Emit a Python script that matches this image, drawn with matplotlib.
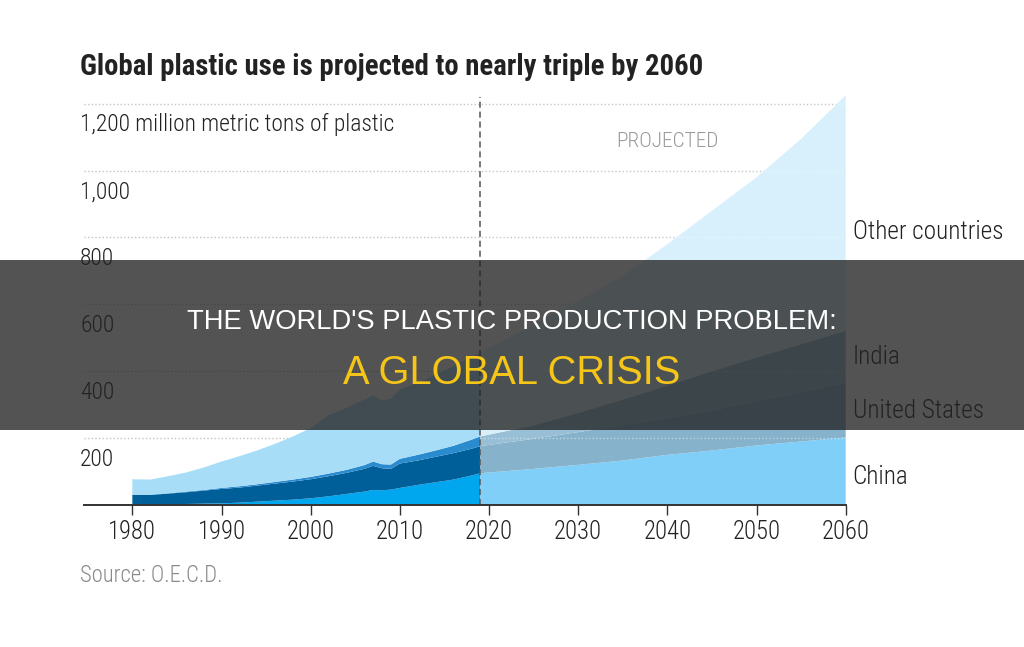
import matplotlib
matplotlib.use("Agg")
import matplotlib.pyplot as plt
import matplotlib.transforms as mtransforms
from matplotlib import font_manager
from matplotlib.font_manager import FontProperties

# ---------------- data (million metric tons) ----------------
hist_years = [1980, 1982, 1984, 1986, 1988, 1990, 1992, 1994, 1996, 1998, 2000,
              2002, 2004, 2006, 2007, 2008, 2009, 2010, 2012, 2014, 2016, 2018, 2019]
hist_china = [1, 1, 2, 3, 4, 5, 7, 10, 13, 16, 20, 26, 33, 40, 45, 44, 46, 51, 60, 68, 76, 88, 95]
hist_us = [29, 29, 32, 35, 39, 43, 45, 48, 51, 54, 57, 60, 63, 68, 72, 66, 62, 73, 73, 76, 79, 80, 81]
hist_india = [1, 1, 1, 2, 2, 3, 4, 4, 5, 6, 7, 8, 9, 11, 13, 12, 13, 14, 17, 19, 22, 27, 29]
hist_other = [46, 45, 51, 57, 67, 79, 90, 101, 114, 129, 146, 174, 185, 196, 198, 190, 197, 207,
              215, 227, 238, 247, 250]

proj_years = [2019, 2025, 2030, 2035, 2040, 2045, 2050, 2055, 2060]
proj_china = [95, 108, 120, 133, 150, 163, 178, 190, 202]
proj_us = [81, 90, 98, 105, 110, 120, 132, 147, 164]
proj_india = [29, 40, 57, 77, 97, 117, 131, 144, 155]
proj_other = [250, 302, 335, 370, 423, 480, 539, 614, 704]

series_names = ["China", "United States", "India", "Other countries"]
y_ticks = [200, 400, 600, 800, 1000, 1200]
y_tick_labels = ["200", "400", "600", "800", "1,000", "1,200 million metric tons of plastic"]
x_ticks = [1980, 1990, 2000, 2010, 2020, 2030, 2040, 2050, 2060]
split_year = 2019

title = "Global plastic use is projected to nearly triple by 2060"
source = "Source: O.E.C.D."
banner_line1 = "THE WORLD'S PLASTIC PRODUCTION PROBLEM:"
banner_line2 = "A GLOBAL CRISIS"

# ---------------- fonts ----------------
ttf = font_manager.fontManager.ttflist


def _weight(f):
    if isinstance(f.weight, int):
        return f.weight
    s = str(f.weight).lower()
    if "bold" in s or "black" in s or "heavy" in s:
        return 700
    if "light" in s or "thin" in s:
        return 300
    return 400


def pick_font(lo, hi):
    prefs = ["roboto condensed", "liberation sans narrow", "open sans condensed",
             "noto sans condensed", "dejavu sans condensed"]
    pool = []
    for f in ttf:
        fn = f.fname.lower()
        nm = f.name.lower()
        isnarrow = ("narrow" in fn or "condensed" in fn or "narrow" in nm or "condensed" in nm
                    or str(f.stretch) in ("condensed", "semi-condensed"))
        if not isnarrow or "italic" in fn or "oblique" in fn or f.style != "normal":
            continue
        if "mono" in fn or ("serif" in fn and "sans" not in fn):
            continue
        if not (lo <= _weight(f) <= hi):
            continue
        pool.append(f)
    for p in prefs:
        key = p.replace(" ", "")
        for f in pool:
            if f.name.lower() == p or key in f.fname.lower().replace("-", "").replace("_", ""):
                return FontProperties(fname=f.fname)
    if pool:
        return FontProperties(fname=pool[0].fname)
    return None


FP = pick_font(350, 450)
if FP is None:
    names = {f.name for f in ttf}
    FP = FontProperties(family="Roboto" if "Roboto" in names else "DejaVu Sans")
FPL = pick_font(280, 349) or FP
FPB = pick_font(600, 800)
if FPB is None:
    FPB = FontProperties(family=FP.get_family(), weight="bold")
names = {f.name for f in ttf}
ARIAL = "Liberation Sans" if "Liberation Sans" in names else "DejaVu Sans"

hist_colors = ["#00a6ee", "#005e98", "#2a8ccf", "#a8ddf7"]
proj_colors = ["#80cff8", "#86b2cb", "#98bfd6", "#d8f0fb"]

W, H = 1024, 647
fig = plt.figure(figsize=(W / 100, H / 100), dpi=100)
fig.patch.set_facecolor("white")
renderer = fig.canvas.get_renderer()


def fit(t, target_w):
    w = t.get_window_extent(renderer).width
    if w > 0:
        t.set_fontsize(t.get_fontsize() * target_w / w)
    return t.get_fontsize()


ax_left, ax_right = 84, 845.7
ax_bottom, ax_top = 505, 87
ax = fig.add_axes([ax_left / W, (H - ax_bottom) / H, (ax_right - ax_left) / W, (ax_bottom - ax_top) / H])
ax.set_xlim(1974.58, 2060)
ax.set_ylim(0, 1250)
ax.set_facecolor("none")

# gridlines
ax.hlines(y_ticks, 1974.58, 2060, colors="#c4c4c4", linestyles=(0, (1, 1.6)), lw=1.0, zorder=0)

# areas
ax.stackplot(hist_years, hist_china, hist_us, hist_india, hist_other,
             colors=hist_colors, linewidth=0, zorder=2, antialiased=True)
ax.stackplot(proj_years, proj_china, proj_us, proj_india, proj_other,
             colors=proj_colors, linewidth=0, zorder=2, antialiased=True)

# gridlines over the projected part
ax.hlines(y_ticks, split_year, 2060, colors="#ffffff", alpha=0.45,
          linestyles=(0, (1, 1.6)), lw=1.0, zorder=3)

# dashed split line
total_2060 = proj_china[-1] + proj_us[-1] + proj_india[-1] + proj_other[-1]
ax.vlines(split_year, 0, total_2060 - 5, colors="#555555", linestyles=(0, (4, 2.5)), lw=1.1, zorder=4)

# axes styling
for s in ["left", "right", "top"]:
    ax.spines[s].set_visible(False)
ax.spines["bottom"].set_color("#333333")
ax.spines["bottom"].set_linewidth(1.4)
ax.spines["bottom"].set_zorder(5)
ax.set_yticks([])
ax.set_xticks(x_ticks)
ax.tick_params(axis="x", direction="out", length=7.5, width=1.0, color="#333333", pad=3)

# size of the tick-label font: fit "1980" to ~48 px
probe = fig.text(0, 0, "1980", fontproperties=FPL, fontsize=18)
tick_fs = fit(probe, 48)
probe.remove()
ax.set_xticklabels([str(x) for x in x_ticks], fontproperties=FPL, fontsize=tick_fs, color="#222222")

# y labels (below gridlines, left aligned)
ytrans = mtransforms.blended_transform_factory(ax.transAxes, ax.transData)
ytrans = mtransforms.offset_copy(ytrans, fig=fig, x=-4, y=-21, units="dots")
ylabs = []
for v, lab in zip(y_ticks, y_tick_labels):
    ylabs.append(ax.text(0, v, lab, transform=ytrans, ha="left", va="center", fontproperties=FPL,
                         fontsize=18, color="#222222", zorder=6))
yfs = fit(ylabs[-1], 315)
for t in ylabs:
    t.set_fontsize(yfs)

# PROJECTED
tp = ax.text(2040, 1086, "PROJECTED", ha="center", va="center", fontproperties=FPL, fontsize=15,
             color="#9a9a9a")
fit(tp, 103)

# right labels
label_y = [84, 281, 443, 817]
rtrans = mtransforms.offset_copy(ax.transData, fig=fig, x=7, y=0, units="dots")
rl = []
for name, yv in zip(series_names, label_y):
    rl.append(ax.text(2060, yv, name, transform=rtrans, ha="left", va="center", fontproperties=FPL,
                      fontsize=18, color="#222222", clip_on=False))
rfs = fit(rl[-1], 151)
for t in rl:
    t.set_fontsize(rfs)

# title and source
tt = fig.text(80 / W, 1 - 67 / H, title, ha="left", va="center", fontproperties=FPB, fontsize=21,
              color="#222222")
fit(tt, 622)
ts = fig.text(80 / W, 1 - 575 / H, source, ha="left", va="center", fontproperties=FPL, fontsize=15,
              color="#8a8a8a")
fit(ts, 143)

# overlay banner
fig.patches.append(plt.Rectangle((0, 1 - 430 / H), 1, 170 / H, transform=fig.transFigure,
                                 facecolor="#222222", alpha=0.775, edgecolor="none", zorder=10))
b1 = fig.text(0.5, 1 - 322 / H, banner_line1, ha="center", va="center", fontsize=22, family=ARIAL,
              color="white", zorder=11)
fit(b1, 649)
b2 = fig.text(0.5, 1 - 373 / H, banner_line2, ha="center", va="center", fontsize=28, family=ARIAL,
              color="#f5c518", zorder=11)
fit(b2, 337)

fig.savefig("out.png", dpi=100, facecolor="white")
